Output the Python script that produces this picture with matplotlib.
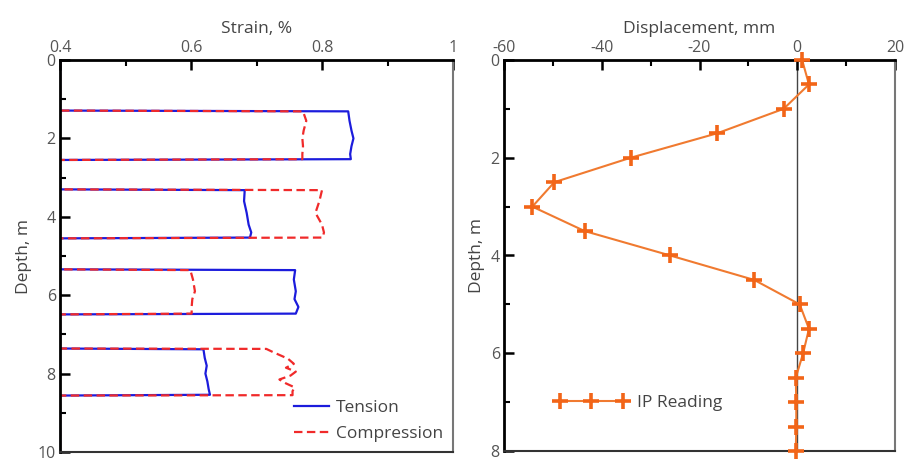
import matplotlib
matplotlib.use("Agg")
import matplotlib.pyplot as plt
from matplotlib.ticker import MultipleLocator, FixedLocator

# ---- strain profile (depth in m, strain in %) ----
tension_depth = [0.0, 1.29, 1.31, 1.55, 1.8, 2.0, 2.2, 2.4, 2.53, 2.55,
                 3.30, 3.32, 3.6, 3.9, 4.2, 4.4, 4.53, 4.55,
                 5.34, 5.36, 5.6, 5.9, 6.1, 6.3, 6.47, 6.49,
                 7.36, 7.38, 7.6, 7.8, 8.0, 8.2, 8.4, 8.54, 8.56, 10.0]
tension_strain = [0.4, 0.4, 0.840, 0.842, 0.845, 0.848, 0.845, 0.843, 0.844, 0.4,
                  0.4, 0.682, 0.681, 0.685, 0.688, 0.692, 0.690, 0.4,
                  0.4, 0.759, 0.757, 0.760, 0.758, 0.764, 0.760, 0.4,
                  0.4, 0.619, 0.621, 0.624, 0.622, 0.625, 0.627, 0.629, 0.4, 0.4]

compression_depth = [0.0, 1.29, 1.31, 1.55, 1.8, 2.0, 2.2, 2.4, 2.53, 2.55,
                     3.30, 3.32, 3.6, 3.9, 4.2, 4.4, 4.53, 4.55,
                     5.34, 5.36, 5.6, 5.9, 6.1, 6.3, 6.47, 6.49,
                     7.36, 7.37, 7.45, 7.62, 7.75, 7.85, 7.95, 8.05, 8.15, 8.25,
                     8.35, 8.45, 8.55, 8.56, 10.0]
compression_strain = [0.4, 0.4, 0.771, 0.776, 0.772, 0.770, 0.771, 0.770, 0.770, 0.4,
                      0.4, 0.800, 0.796, 0.790, 0.800, 0.803, 0.801, 0.4,
                      0.4, 0.599, 0.603, 0.606, 0.602, 0.601, 0.601, 0.4,
                      0.4, 0.715, 0.725, 0.748, 0.757, 0.745, 0.760, 0.752, 0.735, 0.745,
                      0.758, 0.755, 0.755, 0.4, 0.4]

strain_ticks = [0.4, 0.6, 0.8, 1.0]
strain_tick_labels = ["0.4", "0.6", "0.8", "1"]

# ---- inclinometer profile ----
ip_depth = [0, 0.5, 1.0, 1.5, 2.0, 2.5, 3.0, 3.5, 4.0, 4.5, 5.0, 5.5, 6.0, 6.5, 7.0, 7.5, 8.0]
ip_disp = [1.0, 2.4, -2.8, -16.4, -34.1, -49.7, -54.2, -43.5, -26.0, -8.8,
           0.5, 2.4, 1.2, -0.3, -0.2, -0.2, -0.3]

plt.rcParams["font.family"] = ["Open Sans", "DejaVu Sans"]
plt.rcParams["axes.unicode_minus"] = False
TICK_C = "#555555"
LABEL_C = "#444444"

fig = plt.figure(figsize=(9.09, 4.61), dpi=100)
W, H = 909, 461


def box(x0, y0, x1, y1):
    return [x0 / W, 1 - y1 / H, (x1 - x0) / W, (y1 - y0) / H]


ax1 = fig.add_axes(box(60, 60, 453, 452))
ax2 = fig.add_axes(box(504, 60, 895, 451))


def style(ax):
    ax.xaxis.set_ticks_position("top")
    ax.xaxis.set_label_position("top")
    ax.yaxis.set_ticks_position("left")
    for s in ("left", "top"):
        ax.spines[s].set_color("black")
        ax.spines[s].set_linewidth(2.0)
    ax.spines["bottom"].set_color("#333333")
    ax.spines["bottom"].set_linewidth(1.5)
    ax.spines["right"].set_color("#777777")
    ax.spines["right"].set_linewidth(1.5)
    ax.tick_params(which="major", direction="in", length=7, width=1.8,
                   color="black", labelsize=11.5, labelcolor=TICK_C, pad=3)
    ax.tick_params(which="minor", direction="in", length=4.5, width=1.5,
                   color="black")


# left panel: strain
ax1.plot(tension_strain, tension_depth, color="#1c1cdc", lw=1.6, label="Tension")
ax1.plot(compression_strain, compression_depth, color="#f02a2a", lw=1.6,
         ls=(0, (3.8, 2)), label="Compression")
ax1.set_xlim(0.4, 1.0)
ax1.set_ylim(10, 0)
style(ax1)
ax1.xaxis.set_major_locator(FixedLocator(strain_ticks))
ax1.set_xticklabels(strain_tick_labels)
ax1.xaxis.set_minor_locator(MultipleLocator(0.1))
ax1.yaxis.set_major_locator(MultipleLocator(2))
ax1.yaxis.set_minor_locator(MultipleLocator(1))
ax1.set_xlabel("Strain, %", fontsize=12.5, color=LABEL_C, labelpad=5)
ax1.set_ylabel("Depth, m", fontsize=12.5, color=LABEL_C, labelpad=4)
leg1 = ax1.legend(loc="lower right", bbox_to_anchor=(1.015, -0.015), frameon=False,
                  fontsize=12.5, handlelength=2.0, handletextpad=0.4,
                  labelspacing=0.6)
for t in leg1.get_texts():
    t.set_color(LABEL_C)

# right panel: displacement
ax2.axvline(0, color="#444444", lw=1.0, zorder=1)
ax2.plot(ip_disp, ip_depth, color="#f07a30", lw=1.5, marker="+", ms=11,
         mew=2.6, mec="#f26518", clip_on=False, zorder=3, label="IP Reading")
ax2.set_xlim(-60, 20)
ax2.set_ylim(8, 0)
style(ax2)
ax2.xaxis.set_major_locator(MultipleLocator(20))
ax2.xaxis.set_minor_locator(MultipleLocator(10))
ax2.yaxis.set_major_locator(MultipleLocator(2))
ax2.yaxis.set_minor_locator(MultipleLocator(1))
ax2.set_xlabel("Displacement, mm", fontsize=12.5, color=LABEL_C, labelpad=5)
ax2.set_ylabel("Depth, m", fontsize=12.5, color=LABEL_C, labelpad=4)
leg2 = ax2.legend(loc="center left", bbox_to_anchor=(0.09, 0.123), frameon=False,
                  fontsize=12.5, numpoints=3, handlelength=4.2, handletextpad=0.55)
for t in leg2.get_texts():
    t.set_color(LABEL_C)

fig.savefig("out.png", dpi=100)
